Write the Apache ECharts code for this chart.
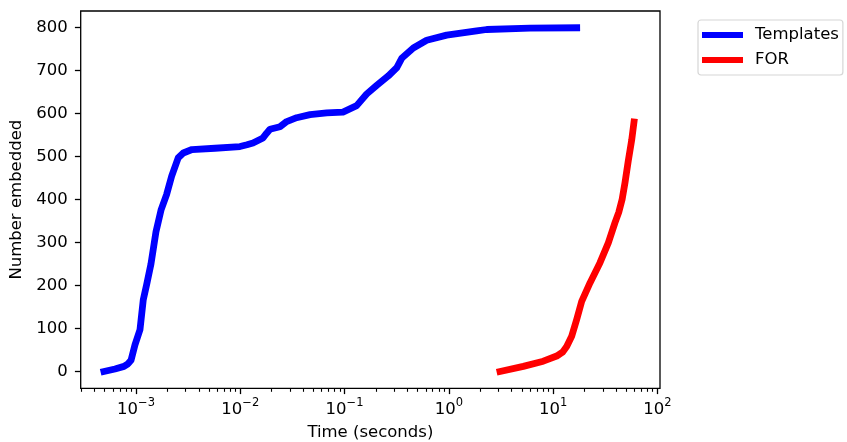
<!DOCTYPE html>
<html>
<head>
<meta charset="utf-8">
<script src="https://cdn.jsdelivr.net/npm/echarts@6/dist/echarts.min.js"></script>
<style>
  html, body { margin: 0; padding: 0; background: #fff; }
  #chart { width: 847px; height: 442px; }
</style>
</head>
<body>
<div id="chart"></div>
<script>
// Templates (blue) - time in seconds, cumulative count
const templatesTime = [4.93e-4, 6.29e-4, 7.67e-4, 8.38e-4, 8.96e-4, 9.78e-4, 1.092e-3, 1.175e-3, 1.266e-3,
  1.392e-3, 1.555e-3, 1.737e-3, 1.969e-3, 2.199e-3, 2.544e-3, 2.841e-3, 3.443e-3, 5.72e-3, 9.93e-3,
  1.159e-2, 1.323e-2, 1.651e-2, 1.79e-2, 1.926e-2, 2.402e-2, 2.786e-2, 3.472e-2, 4.66e-2, 6.74e-2,
  9.65e-2, 0.1306, 0.1628, 0.2032, 0.2624, 0.3158, 0.3528, 0.4557, 0.6126, 0.9526, 1.847, 2.304, 5.99, 16.8]
const templatesCount = [0, 6, 12, 18, 26, 62, 97, 167, 202,
  250, 325, 375, 412, 454, 497, 508, 516, 519, 523,
  527, 531, 543, 554, 563, 569, 581, 590, 597, 601,
  603, 618, 645, 665, 687, 706, 728, 752, 770, 782, 792, 795, 798, 799]

// FOR (red)
const forTime = [3.09, 5.168, 8.036, 10.8, 12.3, 13.47, 15.04, 16.8, 18.76, 22.53, 28.1, 33.76, 39.13,
  42.5, 45.8, 48.81, 52.48, 56.57, 59.53]
const forCount = [0, 12, 24, 36, 45, 58, 82, 121, 163, 206, 253, 299, 346,
  370, 400, 439, 490, 538, 580]

const xMajor = [1e-3, 1e-2, 1e-1, 1e0, 1e1, 1e2]
const yMajor = [0, 100, 200, 300, 400, 500, 600, 700, 800]

// minor ticks 2..9 per decade
const xMinor = []
for (let e = -4; e <= 2; e++) {
  for (let k = 2; k <= 9; k++) {
    const v = k * Math.pow(10, e)
    if (v > Math.pow(10, -3.53) && v < Math.pow(10, 2.024)) xMinor.push(v)
  }
}

const FONT = 'DejaVu Sans'
const xMin = Math.pow(10, -3.53)
const xMax = Math.pow(10, 2.024)

const chart = echarts.init(document.getElementById('chart'))

const option = {
  animation: false,
  backgroundColor: '#fff',
  textStyle: { fontFamily: FONT, color: '#000' },
  grid: {
    left: 80.7, right: 187, top: 11, bottom: 53.7,
    outerBoundsMode: 'none', containLabel: false,
    show: true, borderColor: '#000', borderWidth: 1.3, backgroundColor: 'transparent'
  },
  legend: {
    orient: 'vertical',
    left: 698, top: 20,
    padding: [5, 4, 5, 4],
    itemGap: 5,
    itemWidth: 41, itemHeight: 6,
    icon: 'rect',
    borderColor: '#d6d6d6', borderWidth: 1.2, borderRadius: 3,
    textStyle: { fontFamily: FONT, fontSize: 16.5, color: '#000', lineHeight: 20, padding: [0, 0, 0, 7] },
    data: ['Templates', 'FOR']
  },
  xAxis: [
    {
      type: 'log', logBase: 10, min: xMin, max: xMax, position: 'bottom',
      name: 'Time (seconds)', nameLocation: 'middle', nameGap: 36,
      nameTextStyle: { fontFamily: FONT, fontSize: 16.5, color: '#000' },
      axisLine: { show: false, onZero: false },
      splitLine: { show: false },
      axisTick: { show: true, length: 5.8, lineStyle: { color: '#000', width: 1.3 }, customValues: xMajor },
      axisLabel: {
        customValues: xMajor, margin: 9,
        formatter: v => {
          const e = Math.round(Math.log10(v))
          return '{b|10}{s|' + (e < 0 ? '\u2212' + (-e) : e) + '}'
        },
        rich: {
          b: { fontFamily: FONT, fontSize: 16.5, color: '#000', lineHeight: 18, padding: [6, 0, 0, 0] },
          s: { fontFamily: FONT, fontSize: 11.5, color: '#000', lineHeight: 12, verticalAlign: 'top' }
        }
      }
    },
    {
      type: 'log', logBase: 10, min: xMin, max: xMax, position: 'bottom', offset: 0,
      axisLine: { show: false, onZero: false },
      splitLine: { show: false },
      axisLabel: { show: false, customValues: xMinor },
      axisTick: { show: true, length: 3.5, lineStyle: { color: '#000', width: 1.1 }, customValues: xMinor }
    }
  ],
  yAxis: {
    type: 'value', min: -39, max: 838,
    name: 'Number embedded', nameLocation: 'middle', nameGap: 50,
    nameTextStyle: { fontFamily: FONT, fontSize: 16.5, color: '#000' },
    axisLine: { show: false, onZero: false },
    splitLine: { show: false },
    axisTick: { show: true, length: 5.8, lineStyle: { color: '#000', width: 1.3 }, customValues: yMajor },
    axisLabel: { customValues: yMajor, margin: 13, fontFamily: FONT, fontSize: 16.5, color: '#000' }
  },
  series: [
    {
      name: 'Templates', type: 'line', xAxisIndex: 0,
      data: templatesTime.map((t, i) => [t, templatesCount[i]]),
      showSymbol: false, symbol: 'none',
      color: '#0000ff',
      lineStyle: { color: '#0000ff', width: 6.8, cap: 'square', join: 'round' }
    },
    {
      name: 'FOR', type: 'line', xAxisIndex: 0,
      data: forTime.map((t, i) => [t, forCount[i]]),
      showSymbol: false, symbol: 'none',
      color: '#ff0000',
      lineStyle: { color: '#ff0000', width: 6.8, cap: 'square', join: 'round' }
    }
  ]
}

chart.setOption(option)
</script>
</body>
</html>
